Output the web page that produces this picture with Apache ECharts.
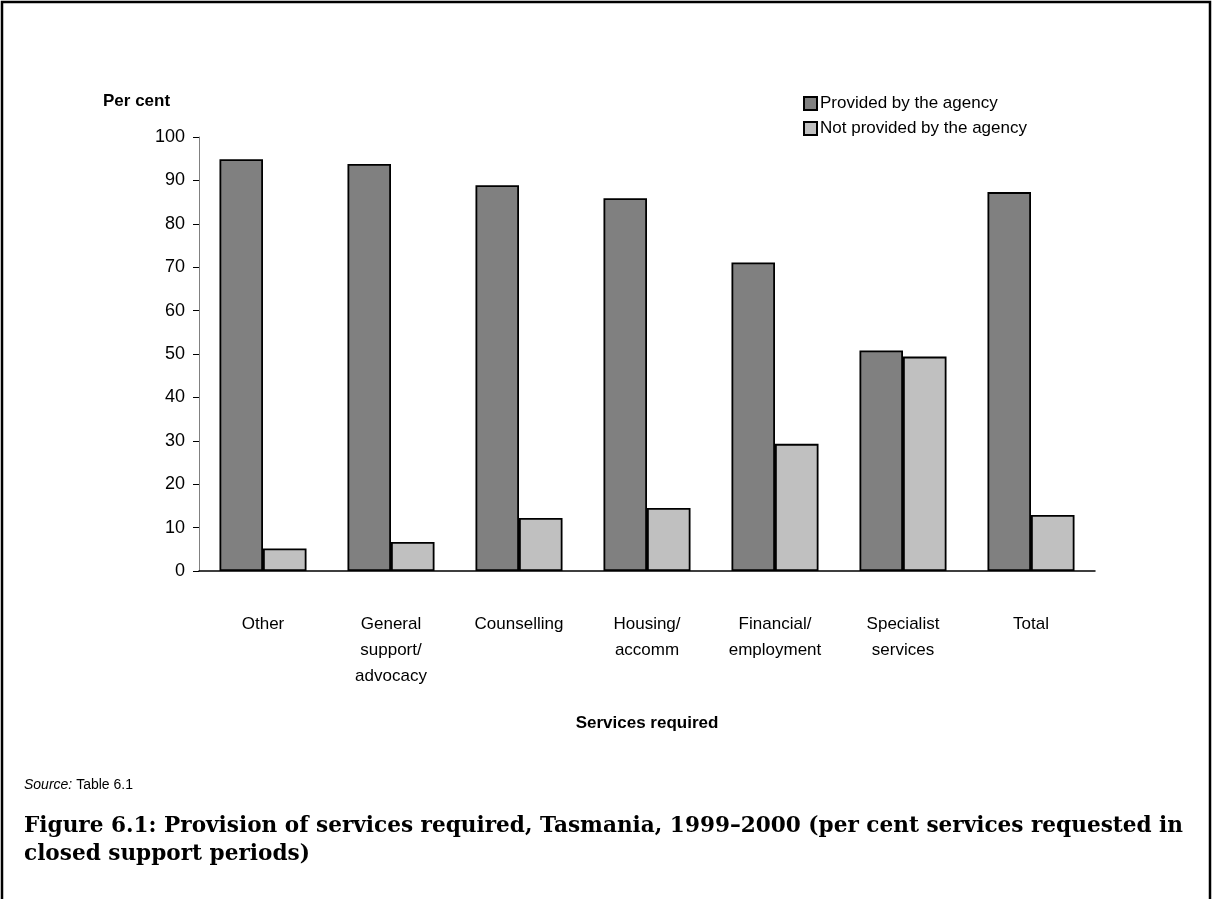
<!DOCTYPE html>
<html>
<head>
<meta charset="utf-8">
<script src="https://cdn.jsdelivr.net/npm/echarts@6/dist/echarts.min.js"></script>
<style>
html,body{margin:0;padding:0;background:#fff;}
#chart{width:1213px;height:899px;}
</style>
</head>
<body>
<div id="chart"></div>
<script>
const categories = ["Other", "General\nsupport/\nadvocacy", "Counselling", "Housing/\naccomm", "Financial/\nemployment", "Specialist\nservices", "Total"];
const provided = [94.9, 93.8, 88.9, 85.9, 71.1, 50.8, 87.3];
const notProvided = [5.2, 6.7, 12.2, 14.5, 29.3, 49.4, 12.9];
const seriesNames = ["Provided by the agency", "Not provided by the agency"];
const yTicks = { min: 0, max: 100, interval: 10 };

const chart = echarts.init(document.getElementById('chart'), null, {renderer: 'canvas'});
const font = 'Liberation Sans, Arial, sans-serif';
chart.setOption({
  animation: false,
  backgroundColor: '#fff',
  grid: { left: 199, right: 118, top: 137, bottom: 328, containLabel: false },
  legend: {
    orient: 'vertical', left: 798, top: 90, itemGap: 8,
    itemWidth: 13, itemHeight: 13,
    icon: 'rect',
    textStyle: { fontFamily: font, fontSize: 17, color: '#000', padding: [0,0,0,-2] },
    data: seriesNames
  },
  xAxis: {
    type: 'category', data: categories,
    axisLine: { show: true, lineStyle: { color: '#000', width: 1.5 } },
    axisTick: { show: false },
    axisLabel: { fontFamily: font, fontSize: 17, color: '#000', margin: 40, lineHeight: 26, interval: 0 },
    name: 'Services required', nameLocation: 'middle', nameGap: 144,
    nameTextStyle: { fontFamily: font, fontSize: 17, fontWeight: 'bold', color: '#000' }
  },
  yAxis: {
    type: 'value', min: yTicks.min, max: yTicks.max, interval: yTicks.interval,
    axisLine: { show: true, lineStyle: { color: '#808080', width: 1 } },
    axisTick: { show: true, length: 6, lineStyle: { color: '#000' } },
    splitLine: { show: false },
    axisLabel: { fontFamily: font, fontSize: 18, color: '#000', margin: 14 },
    name: 'Per cent', nameLocation: 'end', nameGap: 27,
    nameTextStyle: { fontFamily: font, fontSize: 17, fontWeight: 'bold', color: '#000', align: 'left', padding: [0,0,0,-96] }
  },
  series: [
    { name: seriesNames[0], type: 'bar', data: provided, barGap: '0%', barCategoryGap: '32%',
      itemStyle: { color: '#808080', borderColor: '#000', borderWidth: 1.8 } },
    { name: seriesNames[1], type: 'bar', data: notProvided,
      itemStyle: { color: '#c0c0c0', borderColor: '#000', borderWidth: 1.8 } }
  ],
  graphic: [
    { type: 'polyline', shape: { points: [[2, 899], [2, 2], [1210, 2], [1210, 899]] }, style: { stroke: '#000', lineWidth: 2.5, fill: null } },
    { type: 'text', left: 24, top: 778, style: { text: '{i|Source:} Table 6.1', rich: { i: { fontStyle: 'italic', fontFamily: font, fontSize: 14 } }, fontFamily: font, fontSize: 14, fill: '#000' } },
    { type: 'text', left: 24, top: 812, style: { text: 'Figure 6.1: Provision of services required, Tasmania, 1999\u20132000 (per cent services requested in\nclosed support periods)', fontFamily: 'DejaVu Serif, serif', fontWeight: 'bold', fontSize: 21.6, lineHeight: 28, fill: '#000' } }
  ]
});
</script>
</body>
</html>
